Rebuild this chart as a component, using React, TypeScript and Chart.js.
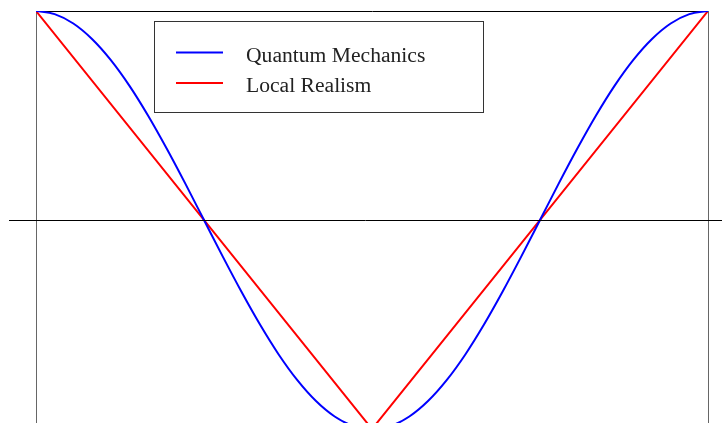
import React, { useEffect, useRef } from "react";
import { Chart, registerables } from "chart.js";

Chart.register(...registerables);

// Angle in degrees (x) for the quantum-mechanics curve, read every 10°
const qmAngles = [0, 10, 20, 30, 40, 50, 60, 70, 80, 90, 100, 110, 120, 130, 140, 150, 160, 170, 180, 190, 200, 210, 220, 230, 240, 250, 260, 270, 280, 290, 300, 310, 320, 330, 340, 350, 360];
const qmValues = [1, 0.985, 0.94, 0.866, 0.766, 0.643, 0.5, 0.342, 0.174, 0, -0.174, -0.342, -0.5, -0.643, -0.766, -0.866, -0.94, -0.985, -1, -0.985, -0.94, -0.866, -0.766, -0.643, -0.5, -0.342, -0.174, 0, 0.174, 0.342, 0.5, 0.643, 0.766, 0.866, 0.94, 0.985, 1];

// Local realism: straight segments
const lrAngles = [0, 180, 360];
const lrValues = [1, -1, 1];

const seriesLabels = ["Quantum Mechanics", "Local Realism"];
const seriesColors = ["#0000ff", "#ff0000"];

const xMin = 0;
const xMax = 360;
const yMax = 1;
const yMin = -0.971;

const FONT = "'Liberation Serif', 'DejaVu Serif', serif";

const zeroLinePlugin = {
  id: "zeroLine",
  afterDatasetsDraw(chart: any) {
    const { ctx } = chart;
    const y = Math.round(chart.scales.y.getPixelForValue(0)) + 0.5;
    ctx.save();
    ctx.strokeStyle = "#000";
    ctx.lineWidth = 1;
    ctx.beginPath();
    ctx.moveTo(9, y);
    ctx.lineTo(chart.width, y);
    ctx.stroke();
    ctx.restore();
  },
};

const legendPlugin = {
  id: "boxLegend",
  afterDraw(chart: any) {
    const { ctx } = chart;
    const bx = 154.5, by = 21.5, bw = 329, bh = 91;
    ctx.save();
    ctx.fillStyle = "#fff";
    ctx.fillRect(bx, by, bw, bh);
    ctx.strokeStyle = "#333";
    ctx.lineWidth = 1;
    ctx.strokeRect(bx, by, bw, bh);
    chart.data.datasets.forEach((ds: any, i: number) => {
      const ly = 52.5 + i * 30.5;
      ctx.strokeStyle = ds.borderColor;
      ctx.lineWidth = 2;
      ctx.beginPath();
      ctx.moveTo(176, ly);
      ctx.lineTo(223, ly);
      ctx.stroke();
      ctx.fillStyle = "#222";
      ctx.font = `21.6px ${FONT}`;
      ctx.textBaseline = "alphabetic";
      ctx.textAlign = "left";
      ctx.fillText(ds.label, 246, ly + 9);
    });
    ctx.restore();
  },
};

const hiddenGrid = { display: false, drawTicks: false, tickLength: 0 };

export default function App() {
  const ref = useRef<HTMLCanvasElement>(null);
  useEffect(() => {
    document.body.style.margin = "0";
    const canvas = ref.current!;
    const chart = new Chart(canvas, {
      type: "line",
      data: {
        datasets: [
          {
            label: seriesLabels[0],
            data: qmAngles.map((a, i) => ({ x: a, y: qmValues[i] })),
            borderColor: seriesColors[0],
            borderWidth: 2,
            pointRadius: 0,
            pointHoverRadius: 0,
            cubicInterpolationMode: "monotone",
            fill: false,
          },
          {
            label: seriesLabels[1],
            data: lrAngles.map((a, i) => ({ x: a, y: lrValues[i] })),
            borderColor: seriesColors[1],
            borderWidth: 2,
            pointRadius: 0,
            pointHoverRadius: 0,
            tension: 0,
            fill: false,
          },
        ],
      },
      options: {
        animation: false,
        responsive: false,
        devicePixelRatio: 1,
        layout: { autoPadding: false, padding: { top: 11, left: 36, right: 14, bottom: 0 } },
        plugins: { legend: { display: false }, tooltip: { enabled: false } },
        scales: {
          x: {
            type: "linear",
            position: "top",
            min: xMin,
            max: xMax,
            ticks: { display: false },
            grid: hiddenGrid,
            border: { display: true, color: "#000", width: 1 },
          },
          y: {
            type: "linear",
            position: "left",
            min: yMin,
            max: yMax,
            ticks: { display: false },
            grid: hiddenGrid,
            border: { display: true, color: "#666", width: 1 },
          },
          y2: {
            type: "linear",
            position: "right",
            min: yMin,
            max: yMax,
            ticks: { display: false },
            grid: hiddenGrid,
            border: { display: true, color: "#666", width: 1 },
          },
        },
      } as any,
      plugins: [zeroLinePlugin, legendPlugin],
    });
    return () => chart.destroy();
  }, []);
  return (
    <div style={{ width: 722, height: 423, background: "#fff" }}>
      <canvas ref={ref} width={722} height={423} style={{ display: "block" }} />
    </div>
  );
}
